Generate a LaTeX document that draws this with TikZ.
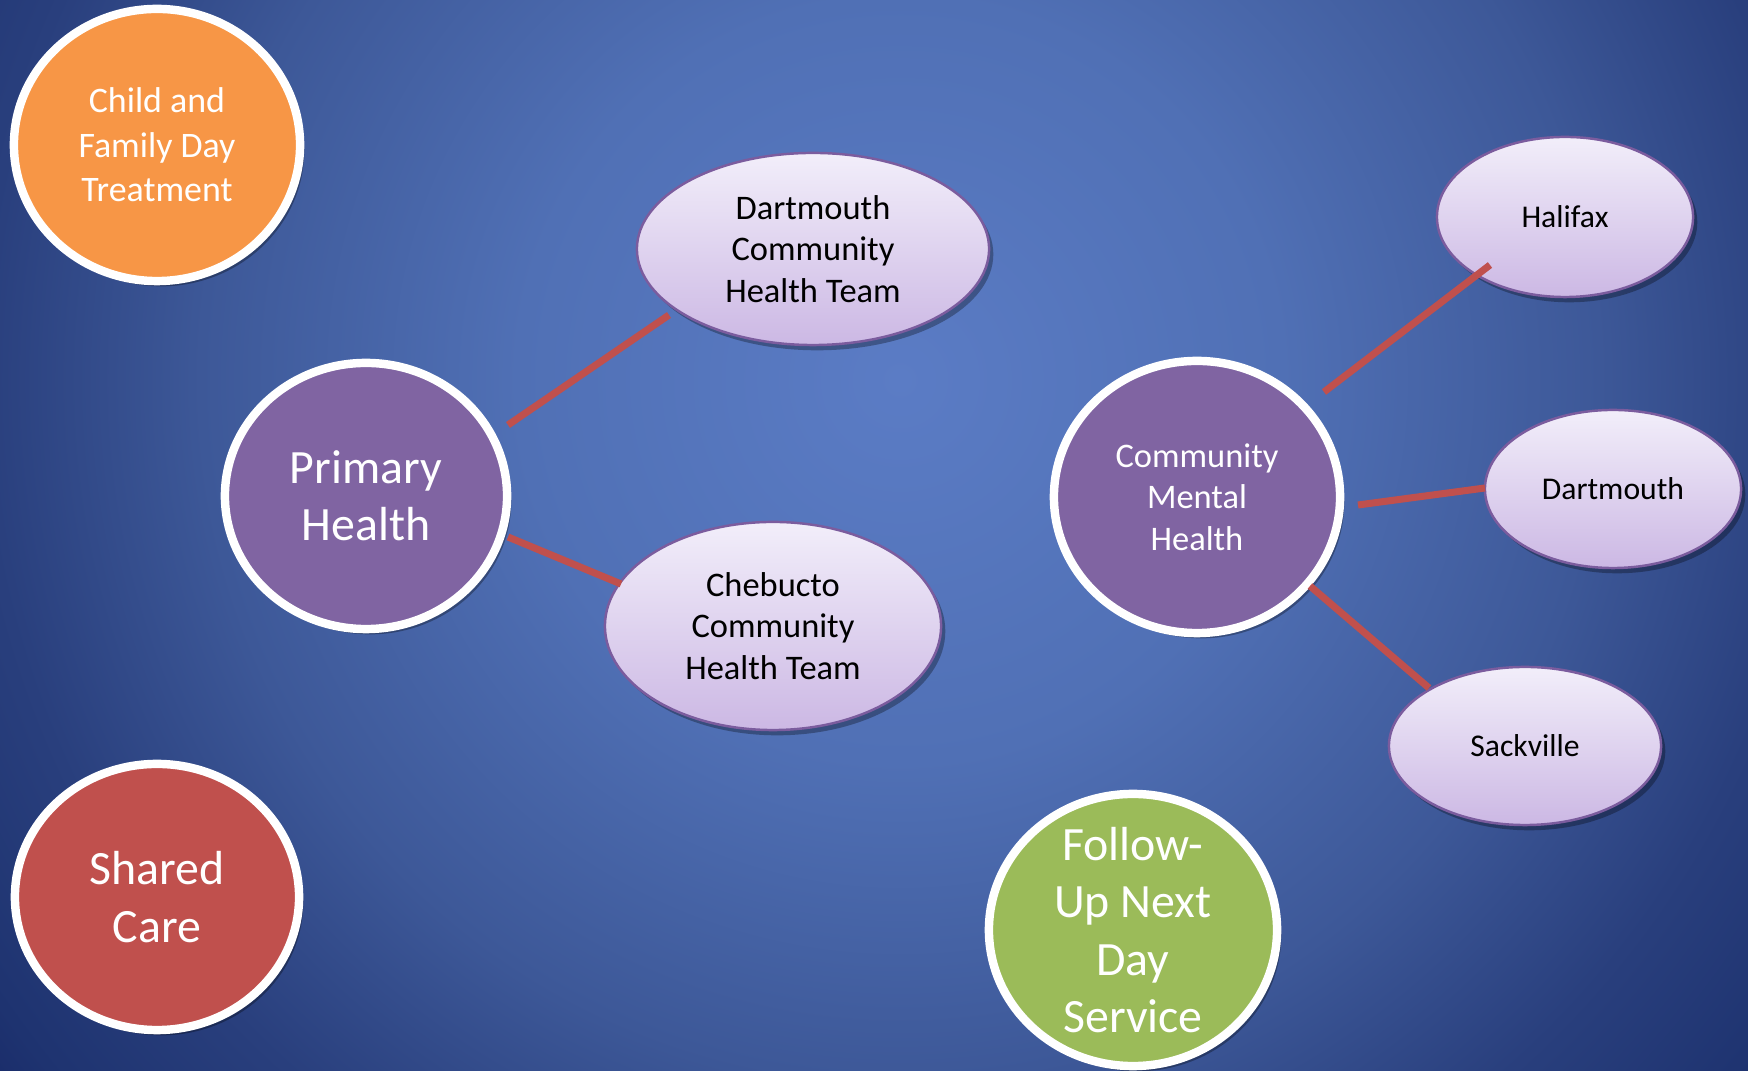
\documentclass[tikz,border=0pt]{standalone}
\usepackage{fontspec}
\setmainfont{Carlito}
\usetikzlibrary{shapes.geometric,shadows}
\definecolor{bgA}{HTML}{5B7CC5}
\definecolor{bgB}{HTML}{5070B5}
\definecolor{bgC}{HTML}{3D5898}
\definecolor{bgD}{HTML}{293F7D}
\definecolor{bgE}{HTML}{1E3370}
\definecolor{bgF}{HTML}{1A2C6A}
\definecolor{corange}{HTML}{F79646}
\definecolor{cpurple}{HTML}{8064A2}
\definecolor{cred}{HTML}{C0504D}
\definecolor{cgreen}{HTML}{9BBB59}
\definecolor{ltop}{HTML}{F2EEFA}
\definecolor{lbot}{HTML}{CCB8E4}
\definecolor{lborder}{HTML}{7B5C9E}
\definecolor{linkred}{HTML}{C0504D}
\pgfdeclareradialshading{bgshade}{\pgfpoint{0bp}{0bp}}{color(0bp)=(bgA); color(8.3bp)=(bgB); color(15.2bp)=(bgC); color(20bp)=(bgD); color(23.8bp)=(bgE); color(25bp)=(bgF); color(50bp)=(bgF)}
\begin{document}
\begin{tikzpicture}[x=0.01cm,y=-0.01cm,
  bigcircle/.style={ellipse, draw=white, line width=2.4pt, text=white, align=center, inner sep=0pt,
    drop shadow={shadow xshift=1.2pt,shadow yshift=-1.5pt,opacity=0.3,fill=black}},
  subellipse/.style={ellipse, draw=lborder, line width=0.7pt, top color=ltop, bottom color=lbot,
    text=black, align=center, inner sep=0pt,
    drop shadow={shadow xshift=1.2pt,shadow yshift=-1.5pt,opacity=0.3,fill=black}},
  bigfont/.style={font=\fontsize{13.6}{16.3}\selectfont},
  midfont/.style={font=\fontsize{9.8}{11.8}\selectfont},
  smallfont/.style={font=\fontsize{9}{11}\selectfont},
  link/.style={draw=linkred, line width=2pt}]
\useasboundingbox (0,0) rectangle (1748,1071);
\begin{scope}
\clip (0,0) rectangle (1748,1071);
\shade[shading=bgshade] (900,380) circle (1150);
\end{scope}

\node[bigcircle, fill=corange, minimum width=2.86cm, minimum height=2.72cm,
  font=\fontsize{10.2}{12.7}\selectfont] (cft) at (157,145) {Child and\\Family Day\\Treatment};
\node[bigcircle, fill=cpurple, minimum width=2.82cm, minimum height=2.66cm, bigfont] (ph) at (366,496) {Primary\\Health};
\node[bigcircle, fill=cred, minimum width=2.84cm, minimum height=2.66cm, bigfont] (sc) at (157,897) {Shared\\Care};
\node[bigcircle, fill=cpurple, minimum width=2.86cm, minimum height=2.72cm, midfont] (cmh) at (1197,497) {Community\\Mental\\Health};
\node[bigcircle, fill=cgreen, minimum width=2.88cm, minimum height=2.72cm, inner sep=-0.5cm, bigfont] (fu) at (1133,930) {Follow-\\Up Next\\Day\\Service};

\node[subellipse, minimum width=3.52cm, minimum height=1.92cm, midfont] (dct) at (813,249) {Dartmouth\\Community\\Health Team};
\node[subellipse, minimum width=3.36cm, minimum height=2.08cm, midfont] (cct) at (773,626) {Chebucto\\Community\\Health Team};
\node[subellipse, minimum width=2.56cm, minimum height=1.60cm, smallfont] (hal) at (1565,217) {Halifax};
\node[subellipse, minimum width=2.56cm, minimum height=1.58cm, smallfont] (dar) at (1613,489) {Dartmouth};
\node[subellipse, minimum width=2.72cm, minimum height=1.58cm, smallfont] (sack) at (1525,746) {Sackville};

\coordinate (l1a) at (508,425); \coordinate (l1b) at (669,315);
\coordinate (l2a) at (508,537); \coordinate (l2b) at (621,584);
\coordinate (l3a) at (1324,392); \coordinate (l3b) at (1490,265);
\coordinate (l4a) at (1358,505); \coordinate (l4b) at (1485,488);
\coordinate (l5a) at (1310,586); \coordinate (l5b) at (1429,688);
\draw[link] (l1a) -- (l1b);
\draw[link] (l2a) -- (l2b);
\draw[link] (l3a) -- (l3b);
\draw[link] (l4a) -- (l4b);
\draw[link] (l5a) -- (l5b);
\end{tikzpicture}
\end{document}
